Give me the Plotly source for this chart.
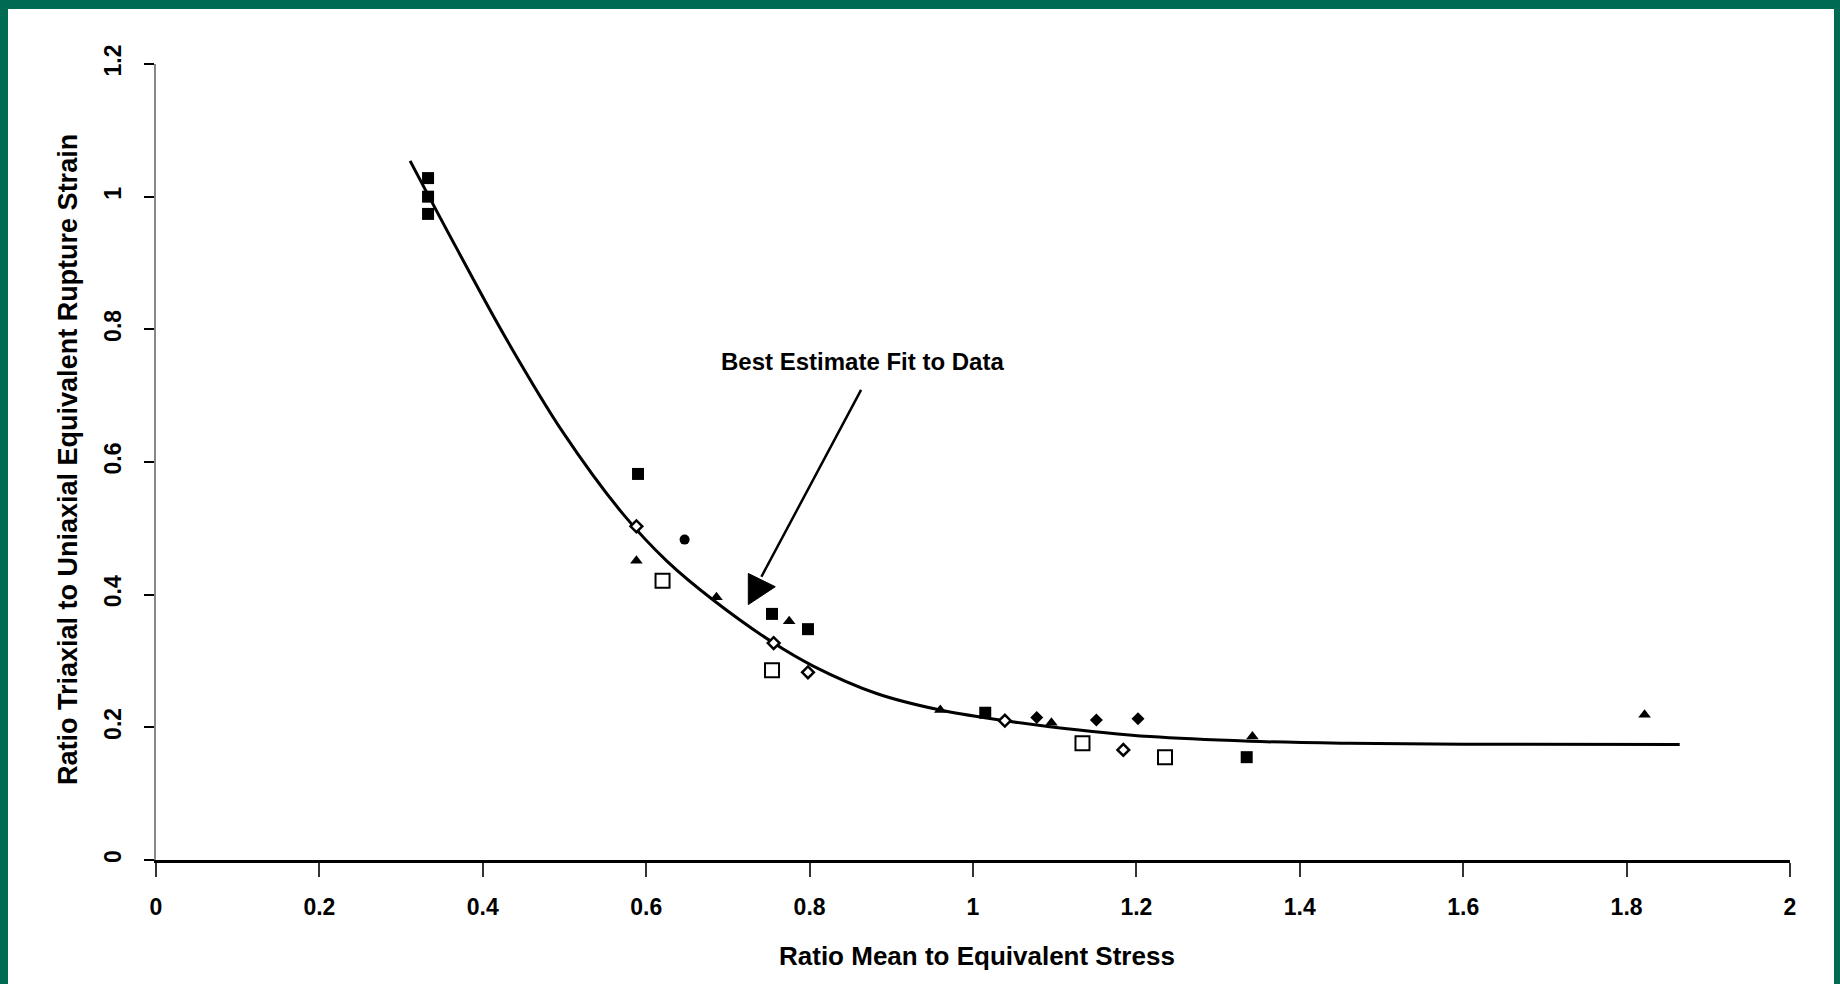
import plotly.graph_objects as go

# ---- data ----
filled_sq_x = [0.333, 0.333, 0.333, 0.590, 0.754, 0.798, 1.015, 1.335]
filled_sq_y = [1.028, 1.000, 0.974, 0.582, 0.371, 0.348, 0.222, 0.155]

open_sq_x = [0.620, 0.754, 1.134, 1.235]
open_sq_y = [0.421, 0.286, 0.176, 0.155]

open_dia_x = [0.588, 0.756, 0.798, 1.039, 1.184]
open_dia_y = [0.503, 0.327, 0.283, 0.210, 0.166]

tri_x = [0.588, 0.686, 0.775, 0.960, 1.096, 1.342, 1.822]
tri_y = [0.451, 0.396, 0.360, 0.226, 0.207, 0.186, 0.219]

circ_x = [0.647]
circ_y = [0.483]

fdia_x = [1.078, 1.151, 1.202]
fdia_y = [0.215, 0.211, 0.213]

fit_x = [0.311, 0.368, 0.429, 0.498, 0.572, 0.625, 0.684, 0.756, 0.805, 0.882,
         0.960, 1.033, 1.094, 1.217, 1.339, 1.461, 1.600, 1.865]
fit_y = [1.054, 0.922, 0.785, 0.645, 0.521, 0.451, 0.390, 0.327, 0.292, 0.251,
         0.226, 0.211, 0.201, 0.186, 0.179, 0.176, 0.1745, 0.174]

x_ticks = [0, 0.2, 0.4, 0.6, 0.8, 1, 1.2, 1.4, 1.6, 1.8, 2]
x_tick_text = ["0", "0.2", "0.4", "0.6", "0.8", "1", "1.2", "1.4", "1.6", "1.8", "2"]
y_ticks = [0, 0.2, 0.4, 0.6, 0.8, 1, 1.2]
y_tick_text = ["0", "0.2", "0.4", "0.6", "0.8", "1", "1.2"]

x_title = "Ratio Mean to Equivalent Stress"
y_title = "Ratio Triaxial to Uniaxial Equivalent Rupture Strain"
note_text = "Best Estimate Fit to Data"

# ---- styling ----
FONT = "Liberation Sans, Arial, sans-serif"
GREEN = "#006A53"
W, H = 1840, 984
ML, MR, MT, MB = 156, 50, 64, 124
PW, PH = W - ML - MR, H - MT - MB


def px_x(p):
    return (p - ML) / PW


def px_y(p):
    return (H - MB - p) / PH


fig = go.Figure()

fig.add_trace(go.Scatter(x=fit_x, y=fit_y, mode="lines",
                         line=dict(color="black", width=3, shape="spline", smoothing=1.0),
                         showlegend=False, hoverinfo="skip"))

fig.add_trace(go.Scatter(x=filled_sq_x, y=filled_sq_y, mode="markers",
                         marker=dict(symbol="square", size=12, color="black"),
                         showlegend=False))
fig.add_trace(go.Scatter(x=open_sq_x, y=open_sq_y, mode="markers",
                         marker=dict(symbol="square", size=14, color="white",
                                     line=dict(color="black", width=2)),
                         showlegend=False))
fig.add_trace(go.Scatter(x=open_dia_x, y=open_dia_y, mode="markers",
                         marker=dict(symbol="diamond", size=9, color="white",
                                     line=dict(color="black", width=2.5)),
                         showlegend=False))
fig.add_trace(go.Scatter(x=tri_x, y=tri_y, mode="markers",
                         marker=dict(symbol="triangle-up", size=11, color="black"),
                         showlegend=False))
fig.add_trace(go.Scatter(x=circ_x, y=circ_y, mode="markers",
                         marker=dict(symbol="circle", size=10, color="black"),
                         showlegend=False))
fig.add_trace(go.Scatter(x=fdia_x, y=fdia_y, mode="markers",
                         marker=dict(symbol="diamond", size=10, color="black"),
                         showlegend=False))

# white card on green frame
fig.add_shape(type="rect", xref="paper", yref="paper",
              x0=px_x(8), x1=px_x(1834), y0=px_y(984), y1=px_y(9),
              fillcolor="white", line=dict(width=0), layer="below")

# annotation arrow: line + triangular head
arrow_start = (0.864, 0.711)
arrow_end = (0.741, 0.427)
fig.add_annotation(x=arrow_end[0], y=arrow_end[1], ax=arrow_start[0], ay=arrow_start[1],
                   xref="x", yref="y", axref="x", ayref="y", text="",
                   showarrow=True, arrowhead=0, arrowwidth=2.5, arrowcolor="black")
fig.add_shape(type="path", xref="x", yref="y",
              path="M 0.725,0.432 L 0.758,0.412 L 0.725,0.385 Z",
              fillcolor="black", line=dict(color="black", width=1))
fig.add_annotation(x=0.865, y=0.751, xref="x", yref="y", text=note_text,
                   showarrow=False, xanchor="center", yanchor="middle",
                   font=dict(family=FONT, size=24, color="black", weight="bold"))

# axis titles
fig.add_annotation(x=px_x(977), y=px_y(956), xref="paper", yref="paper",
                   xanchor="center", yanchor="middle",
                   text=x_title, showarrow=False,
                   font=dict(family=FONT, size=26, color="black", weight="bold"))
fig.add_annotation(x=px_x(68), y=px_y(460), xref="paper", yref="paper",
                   xanchor="center", yanchor="middle",
                   text=y_title, showarrow=False, textangle=-90,
                   font=dict(family=FONT, size=27, color="black", weight="bold"))

fig.update_layout(
    width=W, height=H,
    margin=dict(l=ML, r=MR, t=MT, b=MB),
    paper_bgcolor=GREEN, plot_bgcolor="white",
    font=dict(family=FONT, color="black"),
    xaxis=dict(range=[0, 2], tickvals=x_ticks, ticktext=x_tick_text,
               showgrid=False, zeroline=False, showline=True,
               linecolor="black", linewidth=3, ticks="outside", ticklen=14,
               tickwidth=1.5, tickcolor="#333", ticklabelstandoff=10,
               tickfont=dict(family=FONT, size=23, color="black", weight="bold")),
    yaxis=dict(range=[0, 1.2], tickvals=y_ticks, ticktext=y_tick_text,
               showgrid=False, zeroline=False, showline=True,
               linecolor="#888", linewidth=2, ticks="outside", ticklen=10,
               tickwidth=2, tickcolor="black", tickangle=-90, ticklabelstandoff=14,
               tickfont=dict(family=FONT, size=23, color="black", weight="bold")),
)

fig.write_html("out.html")
